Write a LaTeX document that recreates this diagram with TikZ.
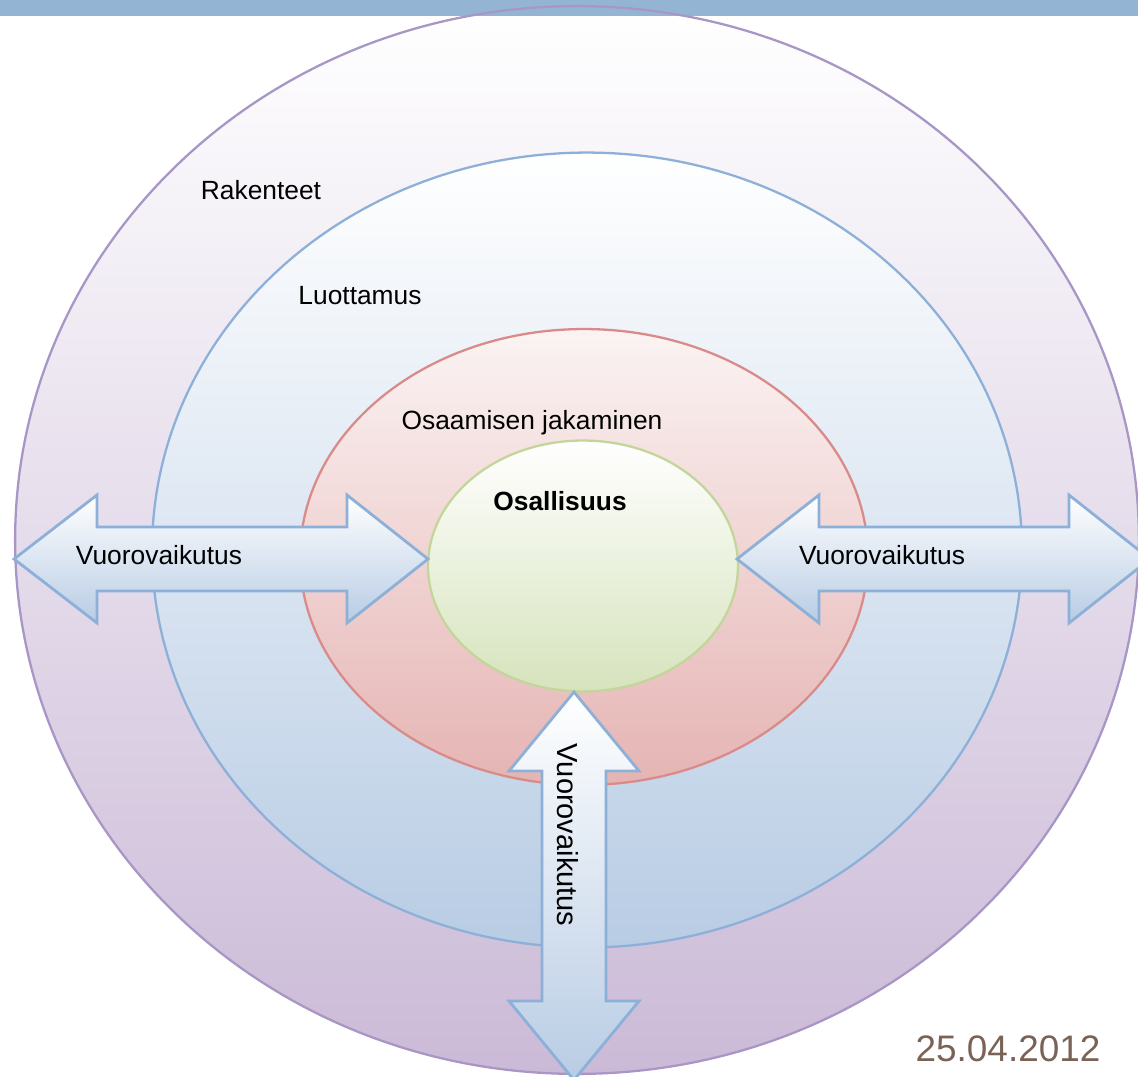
\documentclass[tikz,border=0pt]{standalone}
\usepackage{fontspec}
\setmainfont{Liberation Sans}
\usetikzlibrary{shapes.geometric}
\definecolor{bandblue}{HTML}{93B5D3}
\definecolor{outerline}{HTML}{A796C6}
\definecolor{outerbottom}{HTML}{CBBAD7}
\definecolor{blueline}{HTML}{8DB0D8}
\definecolor{bluebottom}{HTML}{B8CCE4}
\definecolor{redline}{HTML}{D98B89}
\definecolor{redtop}{HTML}{FBF3F3}
\definecolor{redbottom}{HTML}{E5B4B3}
\definecolor{greenline}{HTML}{C2D69A}
\definecolor{greenbottom}{HTML}{D6E3BC}
\definecolor{datebrown}{HTML}{7A6256}
\begin{document}
\begin{tikzpicture}[x=0.02cm,y=-0.02cm,
	ring/.style={ellipse,inner sep=0pt,line width=1.3pt},
	arrowbox/.style={draw=blueline,line width=1.6pt,line join=miter,top color=white,bottom color=bluebottom},
	lbl/.style={font=\fontsize{15pt}{18pt}\selectfont,inner sep=0pt}]
	\useasboundingbox (0,0) rectangle (1138,1077);
	\node[ring,top color=white,bottom color=outerbottom,minimum width=22.48cm,minimum height=21.36cm] at (577,540) (rakenteetring) {};
	\fill[bandblue] (0,0) rectangle (1138,16);
	\node[ring,draw=outerline,minimum width=22.48cm,minimum height=21.36cm] at (rakenteetring.center) (rakenteetline) {};
	\node[ring,draw=blueline,top color=white,bottom color=bluebottom,minimum width=17.40cm,minimum height=15.90cm] at (587,550) (luottamusring) {};
	\node[ring,draw=redline,top color=redtop,bottom color=redbottom,minimum width=11.36cm,minimum height=9.12cm] at (584,557) (osaamisring) {};
	\node[ring,draw=greenline,top color=white,bottom color=greenbottom,minimum width=6.20cm,minimum height=5.02cm] at (583,566) (osallisuusring) {};
	\path[arrowbox] (14,559) -- (97,495) -- (97,527) -- (347,527) -- (347,495) -- (428,559)
	-- (347,623) -- (347,591) -- (97,591) -- (97,623) -- cycle;
	\path[arrowbox] (737,559) -- (819,495) -- (819,527) -- (1069,527) -- (1069,495) -- (1150,559)
	-- (1069,623) -- (1069,591) -- (819,591) -- (819,623) -- cycle;
	\path[arrowbox] (574,692) -- (639,771) -- (606,771) -- (606,1001) -- (639,1001) -- (574,1080)
	-- (509,1001) -- (542,1001) -- (542,771) -- (509,771) -- cycle;
	\node[lbl] at (261,190) (rakenteet) {Rakenteet};
	\node[lbl] at (360,296) (luottamus) {Luottamus};
	\node[lbl] at (532,423) (osaaminen) {Osaamisen jakaminen};
	\node[lbl,font=\fontsize{15pt}{18pt}\selectfont\bfseries] at (560,501) (osallisuus) {Osallisuus};
	\node[lbl] at (159,555) (vuoroleft) {Vuorovaikutus};
	\node[lbl] at (882,555) (vuororight) {Vuorovaikutus};
	\node[lbl,font=\fontsize{16.5pt}{20pt}\selectfont,rotate=-90] at (568,835) (vuorodown) {Vuorovaikutus};
	\node[lbl,font=\fontsize{21pt}{25pt}\selectfont,text=datebrown] at (1008,1049) (date) {25.04.2012};
\end{tikzpicture}
\end{document}
